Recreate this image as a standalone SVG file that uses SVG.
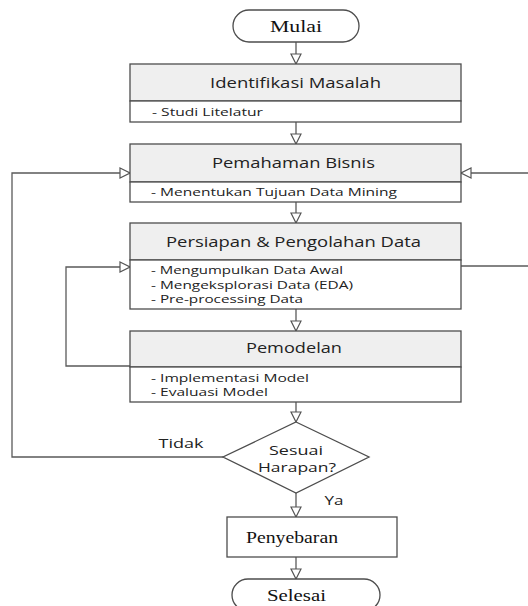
<svg xmlns="http://www.w3.org/2000/svg" width="528" height="606" viewBox="0 0 528 606">
<defs>
<style>
.box{fill:#ffffff;stroke:#4d4d4d;stroke-width:1.3}
.hdr{fill:#efefef;stroke:#4d4d4d;stroke-width:1.3}
.ln{fill:none;stroke:#5a5a5a;stroke-width:1.3}
.h{font-family:"Open Sans","Liberation Sans",sans-serif;font-size:14px;fill:#222;text-anchor:middle}
.s{font-family:"Open Sans","Liberation Sans",sans-serif;font-size:11.5px;fill:#222}
.t{font-family:"Liberation Serif","Times New Roman",serif;font-size:16px;fill:#111;text-anchor:middle}
.d{font-family:"Open Sans","Liberation Sans",sans-serif;font-size:13px;fill:#222;text-anchor:middle}
</style>
<marker id="arr" markerUnits="userSpaceOnUse" viewBox="0 0 12 12" markerWidth="12" markerHeight="12" refX="11" refY="6" orient="auto">
<path d="M1,1 L11,6 L1,11 Z" fill="#fff" stroke="#555" stroke-width="1.2"/>
</marker>
</defs>
<g id="connectors">
<path class="ln" d="M296,42 V64" marker-end="url(#arr)"/>
<path class="ln" d="M296,122 V144" marker-end="url(#arr)"/>
<path class="ln" d="M296,202 V223" marker-end="url(#arr)"/>
<path class="ln" d="M296,309 V331" marker-end="url(#arr)"/>
<path class="ln" d="M296,402 V422" marker-end="url(#arr)"/>
<path class="ln" d="M296,493 V517" marker-end="url(#arr)"/>
<path class="ln" d="M296,557 V579" marker-end="url(#arr)"/>
<path class="ln" d="M223,457 H12 V173 H130" marker-end="url(#arr)"/>
<path class="ln" d="M528,173 H461" marker-end="url(#arr)"/>
<path class="ln" d="M130,366 H66 V267 H130" marker-end="url(#arr)"/>
<path class="ln" d="M461,266 H528"/>
<text class="d" x="181" y="448" textLength="45" lengthAdjust="spacingAndGlyphs">Tidak</text>
<text class="d" x="334" y="505" textLength="19" lengthAdjust="spacingAndGlyphs">Ya</text>
</g>
<g id="mulai">
<rect class="box" x="233" y="10" width="126" height="32" rx="16"/>
<text class="t" x="296" y="32" textLength="52" lengthAdjust="spacingAndGlyphs">Mulai</text>
</g>
<g id="identifikasi">
<rect class="hdr" x="130" y="64" width="331" height="37"/>
<rect class="box" x="130" y="101" width="331" height="21"/>
<text class="h" x="295.5" y="88" textLength="171" lengthAdjust="spacingAndGlyphs">Identifikasi Masalah</text>
<text class="s" x="152" y="116" textLength="111" lengthAdjust="spacingAndGlyphs">- Studi Litelatur</text>
</g>
<g id="pemahaman">
<rect class="hdr" x="130" y="144" width="331" height="38"/>
<rect class="box" x="130" y="182" width="331" height="20"/>
<text class="h" x="293.5" y="168" textLength="163" lengthAdjust="spacingAndGlyphs">Pemahaman Bisnis</text>
<text class="s" x="151" y="196" textLength="246" lengthAdjust="spacingAndGlyphs">- Menentukan Tujuan Data Mining</text>
</g>
<g id="persiapan">
<rect class="hdr" x="130" y="223" width="331" height="37"/>
<rect class="box" x="130" y="260" width="331" height="49"/>
<text class="h" x="293.5" y="247" textLength="255" lengthAdjust="spacingAndGlyphs">Persiapan &amp; Pengolahan Data</text>
<text class="s" x="151" y="274" textLength="192" lengthAdjust="spacingAndGlyphs">- Mengumpulkan Data Awal</text>
<text class="s" x="151" y="289" textLength="202" lengthAdjust="spacingAndGlyphs">- Mengeksplorasi Data (EDA)</text>
<text class="s" x="151" y="303" textLength="152" lengthAdjust="spacingAndGlyphs">- Pre-processing Data</text>
</g>
<g id="pemodelan">
<rect class="hdr" x="130" y="331" width="331" height="36"/>
<rect class="box" x="130" y="367" width="331" height="35"/>
<text class="h" x="294" y="353" textLength="96" lengthAdjust="spacingAndGlyphs">Pemodelan</text>
<text class="s" x="151" y="382" textLength="158" lengthAdjust="spacingAndGlyphs">- Implementasi Model</text>
<text class="s" x="151" y="396" textLength="117" lengthAdjust="spacingAndGlyphs">- Evaluasi Model</text>
</g>
<g id="keputusan">
<path class="box" d="M296,422 L369,457 L296,493 L223,457 Z"/>
<text class="d" x="296" y="455" textLength="54" lengthAdjust="spacingAndGlyphs">Sesuai</text>
<text class="d" x="297" y="472" textLength="78" lengthAdjust="spacingAndGlyphs">Harapan?</text>
</g>
<g id="penyebaran">
<rect class="box" x="227" y="517" width="170" height="40"/>
<text class="t" x="292" y="543" textLength="92" lengthAdjust="spacingAndGlyphs">Penyebaran</text>
</g>
<g id="selesai">
<rect class="box" x="232" y="579" width="148" height="32" rx="16"/>
<text class="t" x="296.5" y="601" textLength="59" lengthAdjust="spacingAndGlyphs">Selesai</text>
</g>
</svg>
